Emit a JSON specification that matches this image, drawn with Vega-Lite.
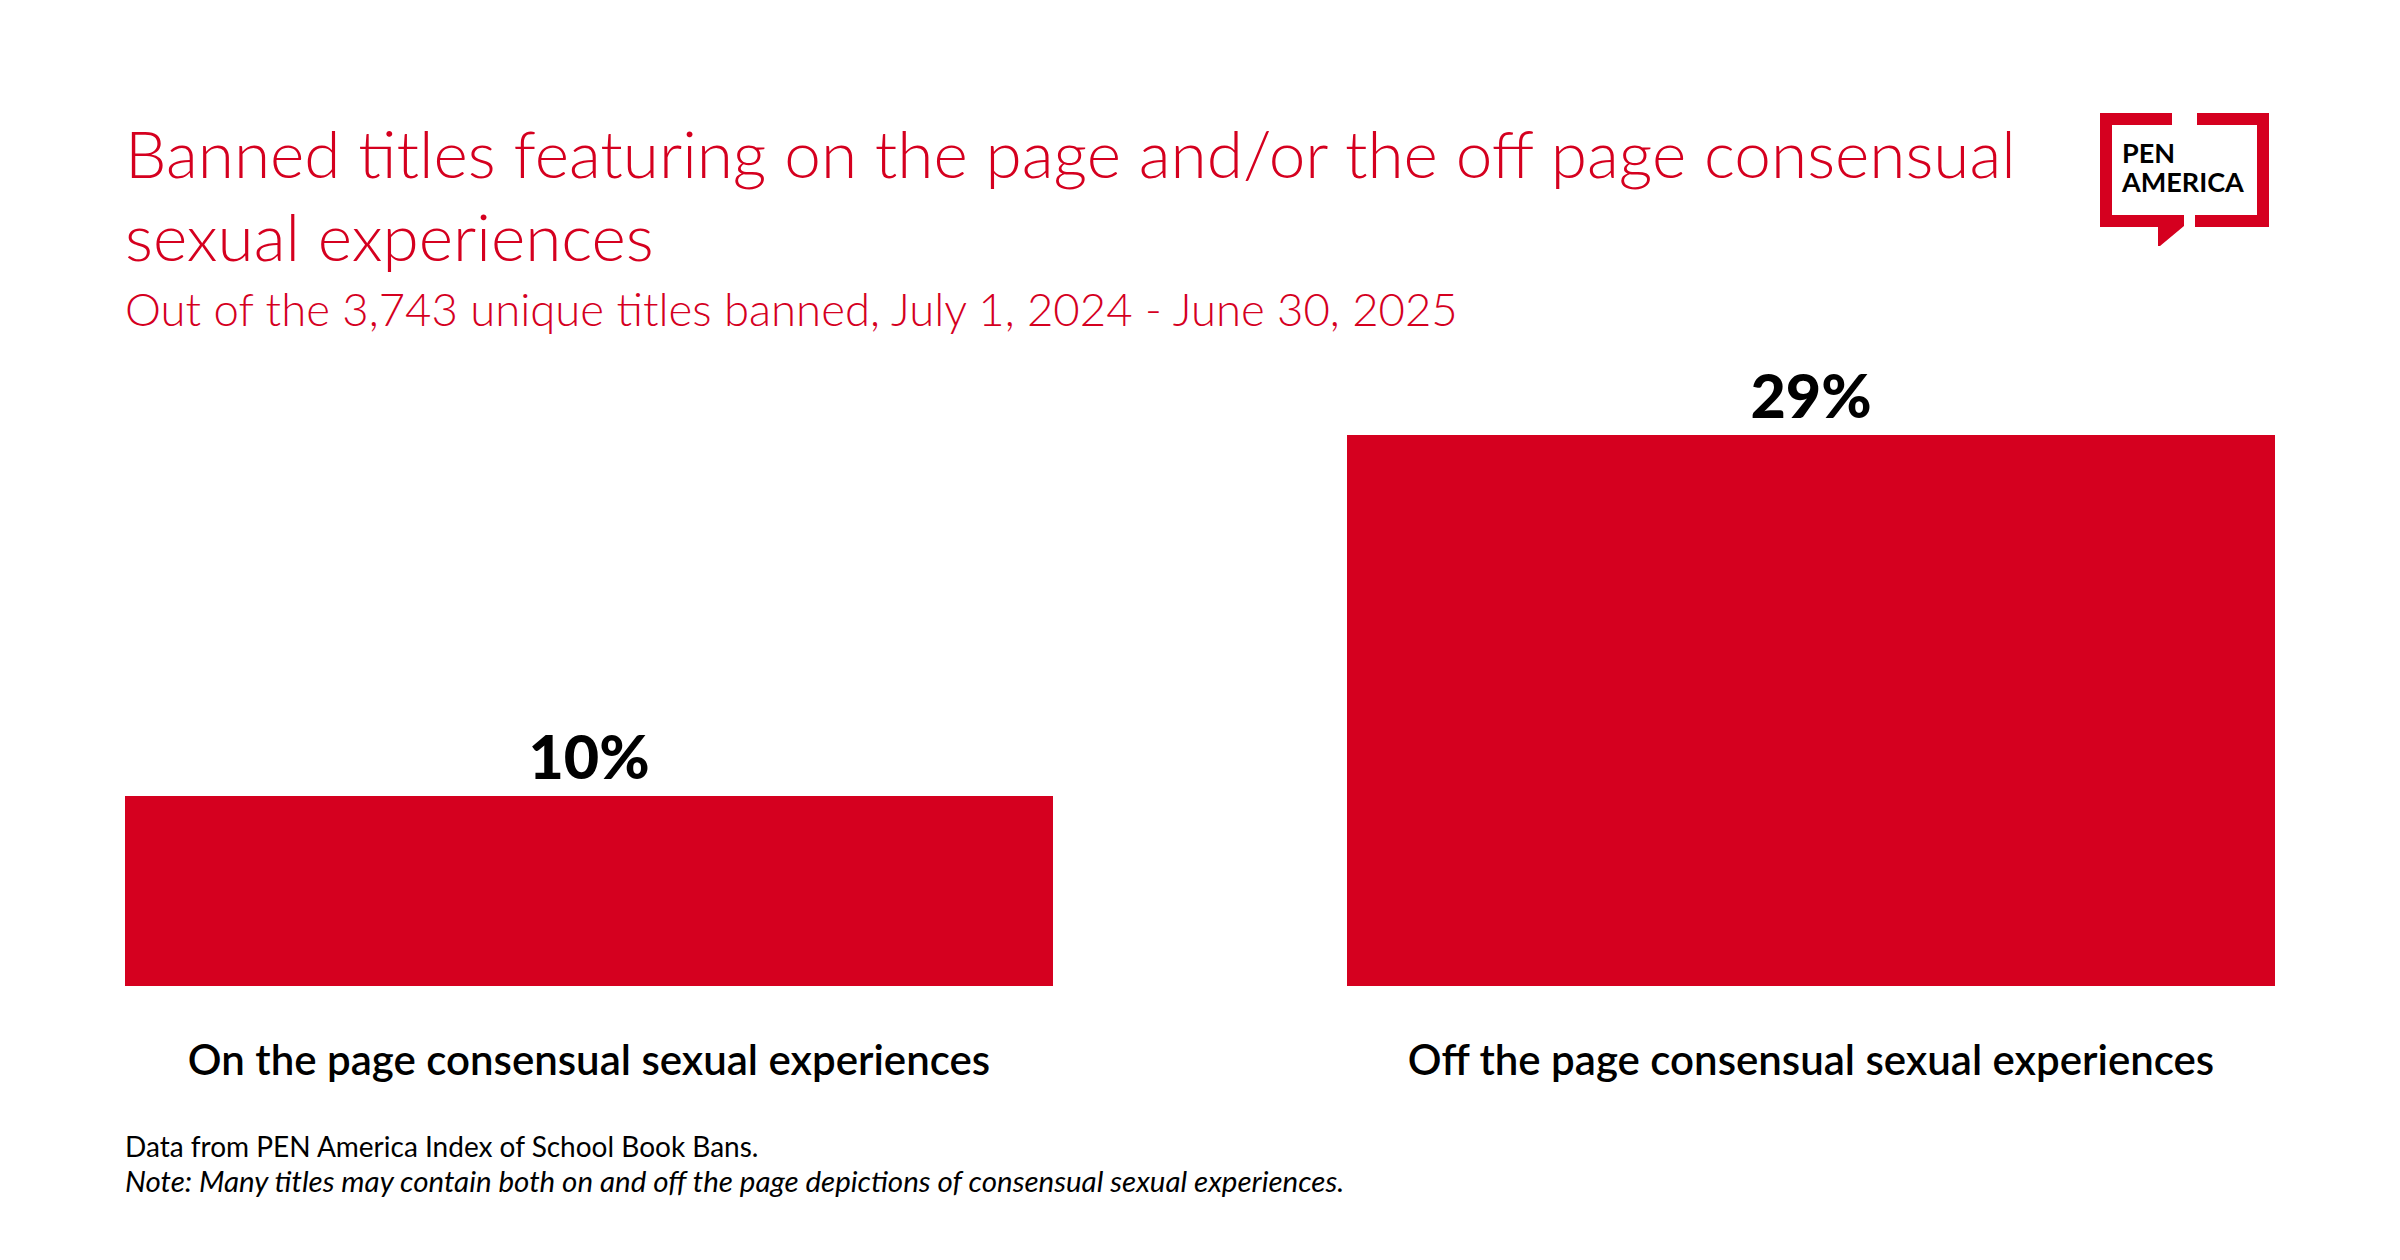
{
  "$schema": "https://vega.github.io/schema/vega-lite/v6.json",
  "width": 2150,
  "height": 646,
  "autosize": {"type": "none"},
  "padding": {"left": 125, "top": 340, "right": 125, "bottom": 274},
  "background": "white",
  "config": {"view": {"stroke": null}, "font": "Lato"},
  "title": {
    "text": ["Banned titles featuring on the page and/or the off page consensual", "sexual experiences"],
    "subtitle": "Out of the 3,743 unique titles banned, July 1, 2024 - June 30, 2025",
    "anchor": "start",
    "frame": "group",
    "orient": "top",
    "font": "Lato",
    "fontSize": 65.7,
    "fontWeight": 300,
    "color": "#D5001F",
    "lineHeight": 83,
    "subtitleFont": "Lato",
    "subtitleFontSize": 45.5,
    "subtitleFontWeight": 300,
    "subtitleColor": "#D5001F",
    "subtitleLineHeight": 50,
    "subtitlePadding": 15,
    "offset": -223
  },
  "data": {
    "values": [
      {"category": "On the page consensual sexual experiences", "pct": 10, "label": "10%"},
      {"category": "Off the page consensual sexual experiences", "pct": 29, "label": "29%"}
    ]
  },
  "layer": [
    {
      "mark": {"type": "bar", "color": "#D5001F"},
      "encoding": {
        "x": {
          "field": "category",
          "type": "nominal",
          "sort": null,
          "scale": {"paddingInner": 0.2406, "paddingOuter": 0},
          "axis": {
            "title": null,
            "labelAngle": 0,
            "ticks": false,
            "domain": false,
            "labelFont": "Lato",
            "labelFontSize": 42,
            "labelFontWeight": 600,
            "labelColor": "black",
            "labelBaseline": "alphabetic",
            "labelPadding": 88,
            "labelLimit": 0
          }
        },
        "y": {"field": "pct", "type": "quantitative", "scale": {"domain": [0, 34], "nice": false, "zero": true}, "axis": null}
      }
    },
    {
      "mark": {"type": "text", "baseline": "alphabetic", "dy": -17, "font": "Lato", "fontSize": 61, "fontWeight": 900, "color": "black"},
      "encoding": {
        "x": {"field": "category", "type": "nominal", "sort": null},
        "y": {"field": "pct", "type": "quantitative"},
        "text": {"field": "label"}
      }
    },
    {
      "data": {"values": [{"note": "Data from PEN America Index of School Book Bans."}]},
      "mark": {"type": "text", "align": "left", "baseline": "alphabetic", "xOffset": -464, "yOffset": 171, "font": "Lato", "fontSize": 28, "color": "black"},
      "encoding": {
        "x": {"datum": "On the page consensual sexual experiences"},
        "y": {"datum": 0},
        "text": {"field": "note"}
      }
    },
    {
      "data": {"values": [{"note": "Note: Many titles may contain both on and off the page depictions of consensual sexual experiences."}]},
      "mark": {"type": "text", "align": "left", "baseline": "alphabetic", "xOffset": -464, "yOffset": 206, "font": "Lato", "fontSize": 29.5, "fontStyle": "italic", "color": "black"},
      "encoding": {
        "x": {"datum": "On the page consensual sexual experiences"},
        "y": {"datum": 0},
        "text": {"field": "note"}
      }
    },
    {
      "data": {"values": [{"logo": "PEN AMERICA"}]},
      "mark": {
        "type": "point",
        "shape": "M-0.84,-0.57L-0.12,-0.57L-0.12,-0.45L-0.72,-0.45L-0.72,0.45L0,0.45L0,0.56L-0.24,0.76L-0.26,0.76L-0.26,0.57L-0.84,0.57ZM0.13,-0.57L0.85,-0.57L0.85,0.57L0.11,0.57L0.11,0.45L0.73,0.45L0.73,-0.45L0.13,-0.45Z",
        "size": 40000,
        "filled": true,
        "fill": "#D5001F",
        "strokeWidth": 0,
        "opacity": 1,
        "xOffset": 373,
        "yOffset": -170
      },
      "encoding": {
        "x": {"datum": "Off the page consensual sexual experiences"},
        "y": {"datum": 34}
      }
    },
    {
      "data": {"values": [{"line1": "PEN", "line2": "AMERICA"}]},
      "mark": {"type": "text", "align": "left", "baseline": "alphabetic", "xOffset": 311, "yOffset": -177, "lineHeight": 29, "font": "Lato", "fontSize": 27, "fontWeight": "bold", "color": "black", "text": ["PEN", "AMERICA"]},
      "encoding": {
        "x": {"datum": "Off the page consensual sexual experiences"},
        "y": {"datum": 34}
      }
    }
  ]
}
